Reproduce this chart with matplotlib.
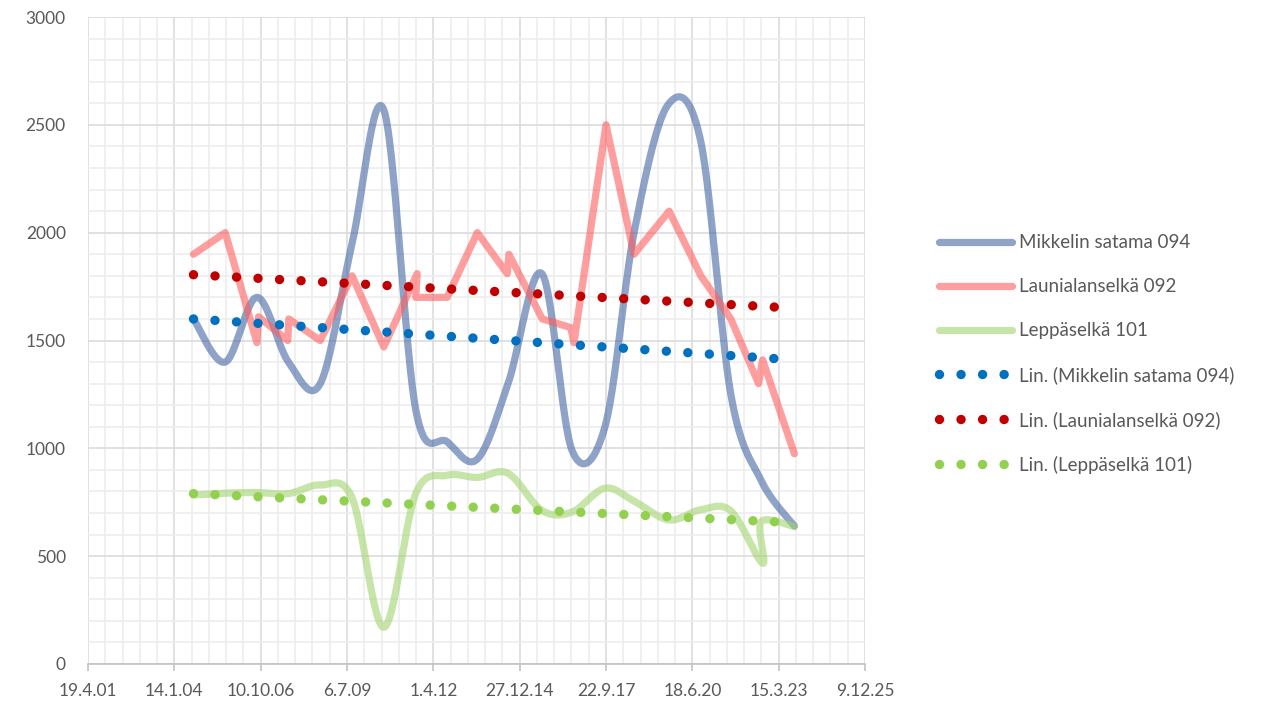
import numpy as np
import pandas as pd
import matplotlib
matplotlib.use('Agg')
import matplotlib.pyplot as plt
import matplotlib.dates as mdates
from matplotlib.ticker import FixedLocator, FuncFormatter

plt.rcParams['font.family'] = ['Lato', 'DejaVu Sans']

# Mikkelin satama 094 (smoothed line)
blue_dates = ['2004-08-23', '2005-08-25', '2006-08-28', '2007-08-28', '2008-08-30',
              '2009-09-03', '2010-09-05', '2011-09-10', '2012-09-09', '2013-08-23',
              '2014-08-15', '2015-09-10', '2016-08-25', '2017-09-10', '2018-08-13',
              '2019-09-05', '2020-09-20', '2021-09-07', '2022-08-25', '2023-09-13']
blue_vals = [1600, 1400, 1700, 1400, 1300, 1950, 2570, 1180, 1030, 950,
             1300, 1810, 990, 1100, 2000, 2590, 2430, 1250, 850, 640]

# Launialanselkä 092 (straight line)
red_dates = ['2004-08-23', '2005-08-25', '2006-08-28', '2006-09-15', '2007-08-20', '2007-09-01',
             '2008-08-30', '2009-09-03', '2010-09-05', '2011-09-27', '2011-09-10', '2012-09-09',
             '2013-08-23', '2014-08-05', '2014-08-24', '2015-09-15', '2016-08-09', '2016-09-16',
             '2017-09-22', '2018-08-13', '2019-09-23', '2020-09-24', '2021-09-07',
             '2022-07-25', '2022-09-10', '2023-09-13']
red_vals = [1900, 2000, 1490, 1610, 1500, 1600, 1500, 1800, 1470, 1810, 1700, 1700,
            2000, 1810, 1900, 1600, 1560, 1490, 2500, 1900, 2100, 1800, 1600,
            1300, 1410, 975]

# Leppäselkä 101 (smoothed line)
green_dates = ['2004-08-23', '2005-08-25', '2006-08-28', '2007-08-28', '2008-08-30',
               '2009-09-03', '2010-09-05', '2011-09-10', '2012-09-09', '2013-08-23',
               '2014-08-15', '2015-09-10', '2016-08-25', '2017-09-10', '2018-08-13',
               '2019-09-20', '2020-09-20', '2021-09-07', '2022-09-10', '2022-08-25',
               '2023-09-13']
green_vals = [784, 792, 795, 790, 830, 770, 170, 790, 875, 865,
              884, 712, 705, 815, 755, 668, 715, 710, 467, 660, 637]

# linear trend lines as shown (value at first and last sample date)
trend_first = [1600, 1805, 790]
trend_last = [1410, 1650, 655]

labels = ['Mikkelin satama 094', 'Launialanselkä 092', 'Leppäselkä 101']
line_colors = ['#4366A3', '#FF5D5D', '#A2D56E']
trend_colors = ['#0070C0', '#C00000', '#92D050']

x_start = pd.Timestamp('2001-04-19')
x_end = pd.Timestamp('2025-12-09')

# pixel scale of the plot area, used for the smoothing only
SX = 777 / 9000.0
SY = 647 / 3000.0


def smooth(x, y, steps=30):
    P = np.column_stack([np.asarray(x) * SX, np.asarray(y, float) * SY])
    Pe = np.vstack([P[0], P, P[-1]])
    t = np.linspace(0, 1, steps)[:, None]
    segs = []
    for i in range(len(P) - 1):
        p0, p1, p2, p3 = Pe[i], Pe[i + 1], Pe[i + 2], Pe[i + 3]
        c1 = p1 + (p2 - p0) / 6
        c2 = p2 - (p3 - p1) / 6
        segs.append((1 - t) ** 3 * p1 + 3 * (1 - t) ** 2 * t * c1
                    + 3 * (1 - t) * t ** 2 * c2 + t ** 3 * p2)
    out = np.vstack(segs)
    return out[:, 0] / SX, out[:, 1] / SY


fig = plt.figure(figsize=(12.74, 7.09), dpi=100)
ax = fig.add_axes([88 / 1274, 1 - 664 / 709, 777 / 1274, 647 / 709])

series = [(blue_dates, blue_vals, True), (red_dates, red_vals, False), (green_dates, green_vals, True)]
handles = []
for (d, v, sm), lab, col in zip(series, labels, line_colors):
    xn = mdates.date2num(pd.to_datetime(d))
    if sm:
        xs, ys = smooth(xn, v)
    else:
        xs, ys = xn, np.asarray(v, float)
    h, = ax.plot(xs, ys, color=col, alpha=0.6, lw=5.2, solid_capstyle='round',
                 solid_joinstyle='round', label=lab, zorder=3)
    handles.append(h)

for (d, v, sm), lab, col, t0, t1 in zip(series, labels, trend_colors, trend_first, trend_last):
    xn = mdates.date2num(pd.to_datetime(d))
    xx = [xn.min(), xn.max()]
    h, = ax.plot(xx, [t0, t1], color=col, lw=6.8, linestyle=(0, (0.001, 2.28)),
                 dash_capstyle='round', label='Lin. (' + lab + ')', zorder=4)
    handles.append(h)

x0 = mdates.date2num(x_start)
x1 = mdates.date2num(x_end)
ax.set_xlim(x0, x1)
ax.set_ylim(0, 3000)
ax.xaxis.set_major_locator(FixedLocator(np.arange(x0, x1 + 1, 1000)))
ax.xaxis.set_minor_locator(FixedLocator(np.arange(x0, x1 + 1, 200)))
ax.yaxis.set_major_locator(FixedLocator(np.arange(0, 3001, 500)))
ax.yaxis.set_minor_locator(FixedLocator(np.arange(0, 3001, 100)))


def fmt_date(v, pos):
    d = mdates.num2date(v)
    return f'{d.day}.{d.month}.{d:%y}'


ax.xaxis.set_major_formatter(FuncFormatter(fmt_date))

ax.grid(which='major', color='#d9d9d9', lw=1.1, zorder=0)
ax.grid(which='minor', color='#ededed', lw=1.2, zorder=0)
ax.set_axisbelow(True)
for s in ['top', 'right', 'left']:
    ax.spines[s].set_visible(False)
ax.spines['bottom'].set_color('#bfbfbf')
ax.spines['bottom'].set_linewidth(1.1)
ax.tick_params(axis='x', which='major', length=5, width=1.1, color='#bfbfbf',
               labelsize=12.5, labelcolor='#595959', pad=9)
ax.tick_params(axis='x', which='minor', length=0)
ax.tick_params(axis='y', which='both', length=0, labelsize=12.5, labelcolor='#595959', pad=16)

leg = fig.legend(handles=handles, loc='center left', bbox_to_anchor=(939 / 1274, 1 - 354 / 709),
                 frameon=False, fontsize=13.5, handlelength=3.9, handletextpad=0.35,
                 labelspacing=1.44, borderpad=0, borderaxespad=0)
for t in leg.get_texts():
    t.set_color('#595959')

fig.savefig('out.png', dpi=100)
